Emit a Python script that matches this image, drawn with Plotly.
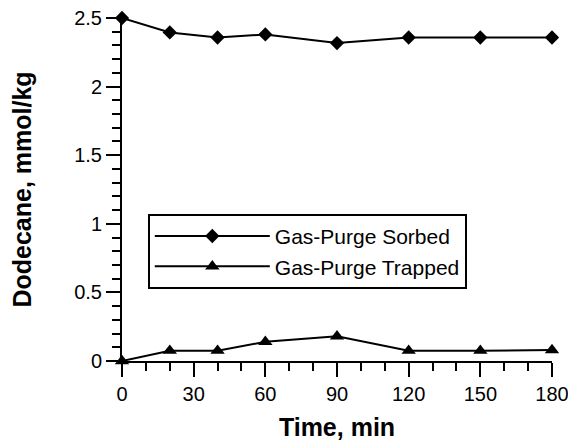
import plotly.graph_objects as go

time_min = [0, 20, 40, 60, 90, 120, 150, 180]
sorbed = [2.5, 2.395, 2.358, 2.38, 2.317, 2.358, 2.358, 2.358]
trapped = [0.0, 0.075, 0.075, 0.14, 0.18, 0.075, 0.075, 0.08]
series_names = ["Gas-Purge Sorbed", "Gas-Purge Trapped"]
x_ticks = [0, 30, 60, 90, 120, 150, 180]
y_ticks = [0, 0.5, 1, 1.5, 2, 2.5]
y_tick_labels = ["0", "0.5", "1", "1.5", "2", "2.5"]

FONT = "Liberation Sans, Arial, Helvetica, sans-serif"

fig = go.Figure()
fig.add_trace(go.Scatter(
    x=time_min, y=sorbed, name=series_names[0], mode="lines+markers",
    line=dict(color="black", width=2),
    marker=dict(symbol="diamond", size=11, color="black"),
    cliponaxis=False,
))
fig.add_trace(go.Scatter(
    x=time_min, y=trapped, name=series_names[1], mode="lines+markers",
    line=dict(color="black", width=2),
    marker=dict(symbol="triangle-up", size=12.5, color="black"),
    cliponaxis=False,
))

axis_common = dict(
    showline=True, linecolor="black", linewidth=2,
    ticks="outside", ticklen=14, tickwidth=2, tickcolor="black",
    showgrid=False, zeroline=False, automargin=False,
    ticklabeloverflow="allow",
    tickfont=dict(family=FONT, size=20, color="black"),
)

fig.update_xaxes(
    range=[0, 180], tickmode="array", tickvals=x_ticks,
    minor=dict(ticks="outside", tick0=0, dtick=10, ticklen=8, tickwidth=2, tickcolor="black"),
    title=dict(text="<b>Time, min</b>", font=dict(family=FONT, size=25, color="black"), standoff=14),
    **axis_common,
)
fig.update_yaxes(
    range=[0, 2.5], tickmode="array", tickvals=y_ticks, ticktext=y_tick_labels,
    minor=dict(ticks="outside", tick0=0, dtick=0.1, ticklen=8, tickwidth=2, tickcolor="black"),
    title=dict(text="<b>Dodecane, mmol/kg</b>", font=dict(family=FONT, size=25, color="black"), standoff=36),
    **axis_common,
)

fig.update_layout(
    template="none",
    width=568, height=436,
    margin=dict(l=114, r=24, t=10, b=83),
    paper_bgcolor="white", plot_bgcolor="white",
    font=dict(family=FONT, color="black"),
    showlegend=True,
    legend=dict(
        x=0.06, y=0.429, xanchor="left", yanchor="top",
        bgcolor="white", bordercolor="black", borderwidth=2,
        font=dict(family=FONT, size=21, color="black"),
        itemwidth=115, tracegroupgap=0,
    ),
)

fig.write_html("out.html")
